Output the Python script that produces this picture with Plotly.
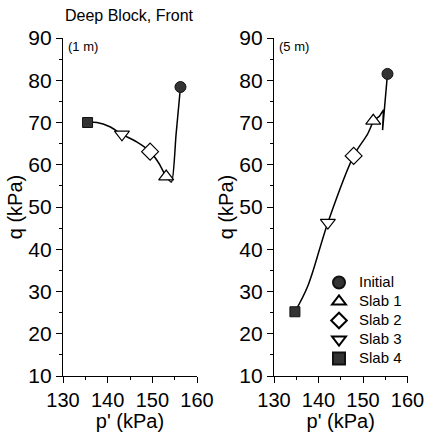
import plotly.graph_objects as go

# ---------------- data ----------------
stage_names = ["Initial", "Slab 1", "Slab 2", "Slab 3", "Slab 4"]

# left panel (1 m): stage points
p_1m = [156.3, 153.1, 149.5, 143.2, 135.5]
q_1m = [78.4, 57.2, 63.1, 67.2, 70.0]
# left panel stress path
path_p_1m = [156.3, 155.3, 154.3, 153.1, 151.5, 149.5, 146.5, 143.2, 140.5, 137.6, 135.5]
path_q_1m = [78.4, 67.0, 55.9, 57.2, 60.3, 63.1, 65.4, 67.2, 69.0, 70.0, 70.0]

# right panel (5 m): stage points
p_5m = [155.5, 152.3, 147.9, 142.1, 134.7]
q_5m = [81.5, 70.4, 62.1, 46.3, 25.2]
# right panel stress path (unloading hook, then smooth path)
hook_p_5m = [155.5, 154.4, 154.6, 153.7, 152.3]
hook_q_5m = [81.5, 68.2, 73.0, 71.5, 70.4]
path_p_5m = [152.3, 151.1, 147.9, 142.1, 137.6, 134.7]
path_q_5m = [70.4, 67.4, 62.1, 46.3, 31.3, 25.2]

x_ticks = [130, 140, 150, 160]
y_ticks = [10, 20, 30, 40, 50, 60, 70, 80, 90]

# ---------------- styles ----------------
FONT = "Liberation Sans, Arial, sans-serif"
markers = [
    dict(symbol="circle", size=11, color="#333333", line=dict(color="#111111", width=1)),
    dict(symbol="triangle-up", size=13, color="white", line=dict(color="black", width=1.2)),
    dict(symbol="diamond", size=13, color="white", line=dict(color="black", width=1.2)),
    dict(symbol="triangle-down", size=13, color="white", line=dict(color="black", width=1.2)),
    dict(symbol="square", size=10, color="#333333", line=dict(color="#111111", width=1)),
]

fig = go.Figure()

# stress path lines
fig.add_trace(go.Scatter(x=path_p_1m, y=path_q_1m, mode="lines",
                         line=dict(color="black", width=1.5, shape="spline", smoothing=0.6),
                         showlegend=False, hoverinfo="skip", xaxis="x", yaxis="y"))
fig.add_trace(go.Scatter(x=hook_p_5m, y=hook_q_5m, mode="lines",
                         line=dict(color="black", width=1.5),
                         showlegend=False, hoverinfo="skip", xaxis="x2", yaxis="y2"))
fig.add_trace(go.Scatter(x=path_p_5m, y=path_q_5m, mode="lines",
                         line=dict(color="black", width=1.5, shape="spline", smoothing=1.0),
                         showlegend=False, hoverinfo="skip", xaxis="x2", yaxis="y2"))

# stage markers
for i, name in enumerate(stage_names):
    mk = markers[i]
    fig.add_trace(go.Scatter(x=[p_1m[i]], y=[q_1m[i]], mode="markers", marker=mk,
                             name=name, showlegend=False, xaxis="x", yaxis="y"))
    fig.add_trace(go.Scatter(x=[p_5m[i]], y=[q_5m[i]], mode="markers", marker=mk,
                             name='<span style="font-size:15px">' + name + '</span>',
                             showlegend=True, xaxis="x2", yaxis="y2"))

axis_common = dict(
    showline=True, linecolor="black", linewidth=1.2, mirror=False,
    showgrid=False, zeroline=False, automargin=False, ticklabeloverflow="allow",
    ticks="outside", ticklen=6, tickwidth=1.2, tickcolor="black",
)
minor_common = dict(ticks="outside", ticklen=3, tickwidth=1, tickcolor="black", showgrid=False)

W, H = 425, 432
xd1 = [63 / W, 197 / W]
xd2 = [274 / W, 407.5 / W]
yd = [1 - 376 / H, 1 - 38 / H]

xaxis_cfg = dict(axis_common, range=[130, 160], tickvals=x_ticks,
                 minor=dict(minor_common, dtick=5, tick0=130),
                 tickfont=dict(family=FONT, size=20, color="black"),
                 title=dict(text="p' (kPa)", standoff=0,
                            font=dict(family=FONT, size=20, color="black")))
yaxis_cfg = dict(axis_common, range=[10, 90], tickvals=y_ticks,
                 minor=dict(minor_common, dtick=5, tick0=10),
                 tickfont=dict(family=FONT, size=21, color="black"),
                 title=dict(text="q (kPa)", standoff=0,
                            font=dict(family=FONT, size=20, color="black")))

fig.update_layout(
    width=W, height=H,
    margin=dict(l=0, r=0, t=0, b=0, autoexpand=False),
    paper_bgcolor="white", plot_bgcolor="white",
    font=dict(family=FONT, color="black"),
    xaxis=dict(xaxis_cfg, domain=xd1, anchor="y"),
    yaxis=dict(yaxis_cfg, domain=yd, anchor="x"),
    xaxis2=dict(xaxis_cfg, domain=xd2, anchor="y2"),
    yaxis2=dict(yaxis_cfg, domain=yd, anchor="x2"),
    legend=dict(x=319 / W, y=1 - 268 / H, xanchor="left", yanchor="top",
                font=dict(family=FONT, size=12.3, color="black"),
                bgcolor="rgba(0,0,0,0)", tracegroupgap=0, itemsizing="constant"),
    annotations=[
        dict(text="Deep Block, Front", x=63 / W, y=1 - 16 / H, xref="paper", yref="paper",
             xanchor="left", yanchor="middle", showarrow=False,
             font=dict(family=FONT, size=16, color="black")),
        dict(text="(1 m)", x=66 / W, y=1 - 46 / H, xref="paper", yref="paper",
             xanchor="left", yanchor="middle", showarrow=False,
             font=dict(family=FONT, size=13, color="black")),
        dict(text="(5 m)", x=277 / W, y=1 - 46 / H, xref="paper", yref="paper",
             xanchor="left", yanchor="middle", showarrow=False,
             font=dict(family=FONT, size=13, color="black")),
    ],
)

fig.write_html("out.html")
